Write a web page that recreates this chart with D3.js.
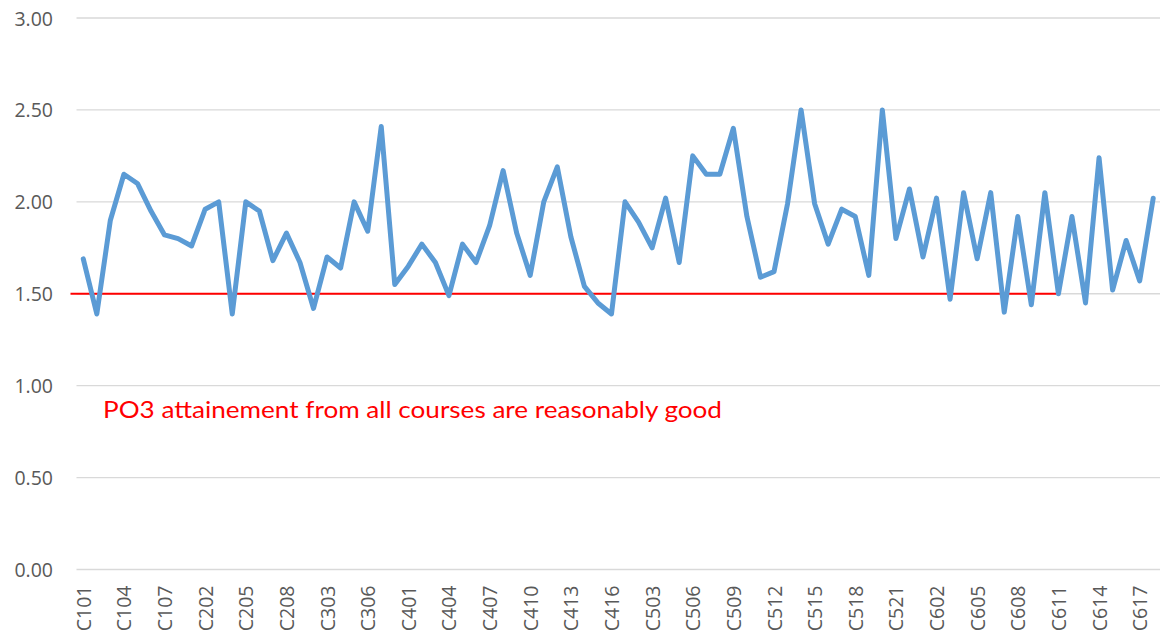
<!DOCTYPE html>
<html>
<head>
<meta charset="utf-8">
<script src="https://cdn.jsdelivr.net/npm/d3@7"></script>
<style>
  html, body { margin: 0; padding: 0; background: #fff; }
  .chart { width: 1160px; height: 639px; }
</style>
</head>
<body>
<div class="chart"></div>
<script>
// 과목 코드 (x축)
const courses = [
  'C101','C102','C103','C104','C105','C106','C107','C108',
  'C201','C202','C203','C204','C205','C206','C207','C208',
  'C301','C302','C303','C304','C305','C306','C307','C308',
  'C401','C402','C403','C404','C405','C406','C407','C408',
  'C409','C410','C411','C412','C413','C414','C415','C416',
  'C501','C502','C503','C504','C505','C506','C507','C508',
  'C509','C510','C511','C512','C513','C514','C515','C516',
  'C517','C518','C519','C520','C521','C522',
  'C601','C602','C603','C604','C605','C606','C607','C608',
  'C609','C610','C611','C612','C613','C614','C615','C616',
  'C617','C618'
];

// PO3 달성도 값
const attainment = [
  1.69, 1.39, 1.90, 2.15, 2.10, 1.95, 1.82, 1.80,
  1.76, 1.96, 2.00, 1.39, 2.00, 1.95, 1.68, 1.83,
  1.67, 1.42, 1.70, 1.64, 2.00, 1.84, 2.41, 1.55,
  1.65, 1.77, 1.67, 1.49, 1.77, 1.67, 1.87, 2.17,
  1.83, 1.60, 2.00, 2.19, 1.81, 1.54, 1.45, 1.39,
  2.00, 1.89, 1.75, 2.02, 1.67, 2.25, 2.15, 2.15,
  2.40, 1.92, 1.59, 1.62, 1.99, 2.50, 1.99, 1.77,
  1.96, 1.92, 1.60, 2.50, 1.80, 2.07,
  1.70, 2.02, 1.47, 2.05, 1.69, 2.05, 1.40, 1.92,
  1.44, 2.05, 1.50, 1.92, 1.45, 2.24, 1.52, 1.79,
  1.57, 2.02
];

// y축 눈금
const yTicks = [0, 0.5, 1.0, 1.5, 2.0, 2.5, 3.0];

// 기준선 (1.50), 기준선이 끝나는 과목
const threshold = 1.5;
const thresholdEnd = 'C611';
const note = 'PO3 attainement from all courses are reasonably good';

const W = 1160, H = 639;
const margin = {top: 18, right: 0, bottom: 69.5, left: 76.5};
const font = '"Open Sans", "Noto Sans", sans-serif';

const svg = d3.select('.chart')
  .append('svg')
    .attr('width', W)
    .attr('height', H);

const x = d3.scalePoint()
  .domain(courses)
  .range([margin.left, W - margin.right])
  .padding(0.5);

const y = d3.scaleLinear()
  .domain([0, 3])
  .range([H - margin.bottom, margin.top]);

/******************** 격자선 ********************/
svg.append('g')
  .selectAll('line')
  .data(yTicks)
  .join('line')
    .attr('x1', margin.left)
    .attr('x2', W - margin.right)
    .attr('y1', d => y(d))
    .attr('y2', d => y(d))
    .attr('stroke', '#d9d9d9')
    .attr('stroke-width', 1.3);

/******************** y축 레이블 ********************/
svg.append('g')
  .selectAll('text')
  .data(yTicks)
  .join('text')
    .attr('x', 53)
    .attr('y', d => y(d))
    .attr('text-anchor', 'end')
    .attr('dominant-baseline', 'central')
    .attr('font-family', font)
    .attr('font-size', '19.5px')
    .attr('fill', '#595959')
    .text(d => d.toFixed(2));

/******************** x축 레이블 (3개마다) ********************/
svg.append('g')
  .selectAll('text')
  .data(courses.filter((d, i) => i % 3 === 0))
  .join('text')
    .attr('transform', d => `translate(${x(d)},${H - margin.bottom + 16}) rotate(-90)`)
    .attr('text-anchor', 'end')
    .attr('dominant-baseline', 'central')
    .attr('font-family', font)
    .attr('font-size', '19.5px')
    .attr('fill', '#595959')
    .text(d => d);

/******************** 기준선 ********************/
svg.append('line')
  .attr('x1', margin.left - 6)
  .attr('x2', x(thresholdEnd) - 2)
  .attr('y1', y(threshold))
  .attr('y2', y(threshold))
  .attr('stroke', '#ff0000')
  .attr('stroke-width', 2);

/******************** 꺾은선 ********************/
const line = d3.line()
  .x((d, i) => x(courses[i]))
  .y(d => y(d));

svg.append('path')
  .datum(attainment)
  .attr('d', line)
  .attr('fill', 'none')
  .attr('stroke', '#5b9bd5')
  .attr('stroke-width', 5)
  .attr('stroke-linejoin', 'round')
  .attr('stroke-linecap', 'round');

/******************** 주석 ********************/
svg.append('text')
  .attr('x', 103)
  .attr('y', 418)
  .attr('font-family', 'Lato, "Open Sans", sans-serif')
  .attr('font-size', '24px')
  .attr('fill', '#ff0000')
  .attr('textLength', 619)
  .attr('lengthAdjust', 'spacingAndGlyphs')
  .text(note);
</script>
</body>
</html>
